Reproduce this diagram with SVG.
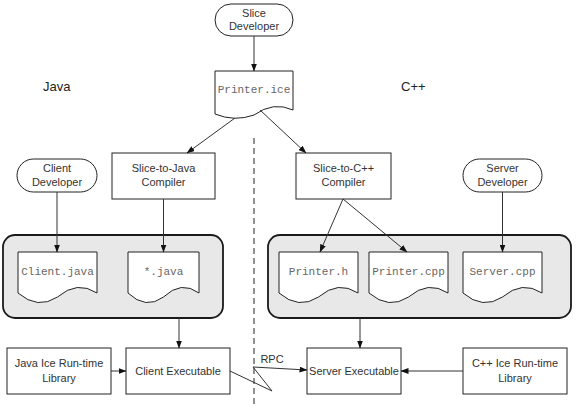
<svg xmlns="http://www.w3.org/2000/svg" width="583" height="409" viewBox="0 0 583 409">
<defs>
<marker id="ah" markerWidth="8" markerHeight="6" refX="7.5" refY="3" orient="auto" markerUnits="userSpaceOnUse">
<path d="M0,0 L8,3 L0,6 Z" fill="#111"/>
</marker>
<style>
.box{fill:#fff;stroke:#222;stroke-width:1}
.grp{fill:#e8e8e8;stroke:#1a1a1a;stroke-width:1.8}
.t{font-family:"Liberation Sans",Arial,sans-serif;font-size:11px;fill:#333;text-anchor:middle}
.lbl{font-family:"Liberation Sans",Arial,sans-serif;font-size:13px;fill:#222}
.m{font-family:"Liberation Mono","Courier New",monospace;font-size:11px;fill:#666;text-anchor:middle}
.c{fill:none;stroke:#333;stroke-width:1;marker-end:url(#ah)}
</style>
</defs>
<rect width="583" height="409" fill="#fff"/>
<text class="lbl" x="43" y="91">Java</text>
<text class="lbl" x="401" y="91">C++</text>
<line x1="254" y1="138" x2="254" y2="406" stroke="#222" stroke-width="1" stroke-dasharray="6,4"/>
<g id="groupJava"><rect class="grp" x="3" y="235" width="220" height="83" rx="12"/></g>
<g id="groupCpp"><rect class="grp" x="268" y="235" width="303" height="83" rx="12"/></g>
<g id="sliceDev"><rect class="box" x="215" y="4" width="78" height="32" rx="16"/><text class="t" x="254" y="17">Slice</text><text class="t" x="254" y="30">Developer</text></g>
<g id="printerIce"><path class="box" d="M215,71 H293 V110 Q273.5,101 254,115 Q234.5,122 215,114 Z"/><text class="m" x="254" y="93">Printer.ice</text></g>
<g id="sliceToJava"><rect class="box" x="112" y="153" width="103" height="46"/><text class="t" x="163.5" y="172">Slice-to-Java</text><text class="t" x="163.5" y="186">Compiler</text></g>
<g id="sliceToCpp"><rect class="box" x="296" y="153" width="95" height="46"/><text class="t" x="343.5" y="172">Slice-to-C++</text><text class="t" x="343.5" y="186">Compiler</text></g>
<g id="clientDev"><rect class="box" x="17" y="159" width="80" height="33" rx="16.5"/><text class="t" x="57" y="172">Client</text><text class="t" x="57" y="186">Developer</text></g>
<g id="serverDev"><rect class="box" x="463" y="159" width="79" height="33" rx="16.5"/><text class="t" x="502.5" y="172">Server</text><text class="t" x="502.5" y="186">Developer</text></g>
<g id="clientJava"><path class="box" d="M18,252 H97 V293 Q77.25,280 57.5,297 Q37.75,310 18,293 Z"/><text class="m" x="57.5" y="275">Client.java</text></g>
<g id="starJava"><path class="box" d="M128,252 H199 V293 Q181.25,280 163.5,297 Q145.75,310 128,293 Z"/><text class="m" x="163.5" y="275">*.java</text></g>
<g id="printerH"><path class="box" d="M279,252 H358 V293 Q338.25,280 318.5,297 Q298.75,310 279,293 Z"/><text class="m" x="318.5" y="275">Printer.h</text></g>
<g id="printerCpp"><path class="box" d="M369,252 H448 V293 Q428.25,280 408.5,297 Q388.75,310 369,293 Z"/><text class="m" x="408.5" y="275">Printer.cpp</text></g>
<g id="serverCpp"><path class="box" d="M463,252 H542 V293 Q522.25,280 502.5,297 Q482.75,310 463,293 Z"/><text class="m" x="502.5" y="275">Server.cpp</text></g>
<g id="javaLib"><rect class="box" x="7" y="348" width="104" height="46"/><text class="t" x="59" y="367">Java Ice Run-time</text><text class="t" x="59" y="382">Library</text></g>
<g id="clientExe"><rect class="box" x="126" y="348" width="104" height="46"/><text class="t" x="178" y="375">Client Executable</text></g>
<g id="serverExe"><rect class="box" x="307" y="348" width="94" height="46"/><text class="t" x="354" y="375">Server Executable</text></g>
<g id="cppLib"><rect class="box" x="463" y="348" width="104" height="46"/><text class="t" x="515" y="367">C++ Ice Run-time</text><text class="t" x="515" y="382">Library</text></g>
<g id="connectors">
<line class="c" x1="254" y1="36" x2="254" y2="71"/>
<line class="c" x1="235" y1="118" x2="187" y2="153"/>
<line class="c" x1="260" y1="110" x2="306" y2="153"/>
<line class="c" x1="57" y1="192" x2="57" y2="252"/>
<line class="c" x1="163.5" y1="199" x2="163.5" y2="252"/>
<line class="c" x1="343" y1="199" x2="320" y2="252"/>
<line class="c" x1="343" y1="199" x2="407" y2="252"/>
<line class="c" x1="502.5" y1="192" x2="502.5" y2="252"/>
<line class="c" x1="179" y1="318" x2="179" y2="348"/>
<line class="c" x1="360" y1="318" x2="360" y2="348"/>
<line class="c" x1="111" y1="371" x2="126" y2="371"/>
<line class="c" x1="463" y1="371" x2="401" y2="371"/>
<polyline class="c" points="230,371 272,391 253,367 307,370"/>
<text class="t" x="272" y="363">RPC</text>
</g>
</svg>
